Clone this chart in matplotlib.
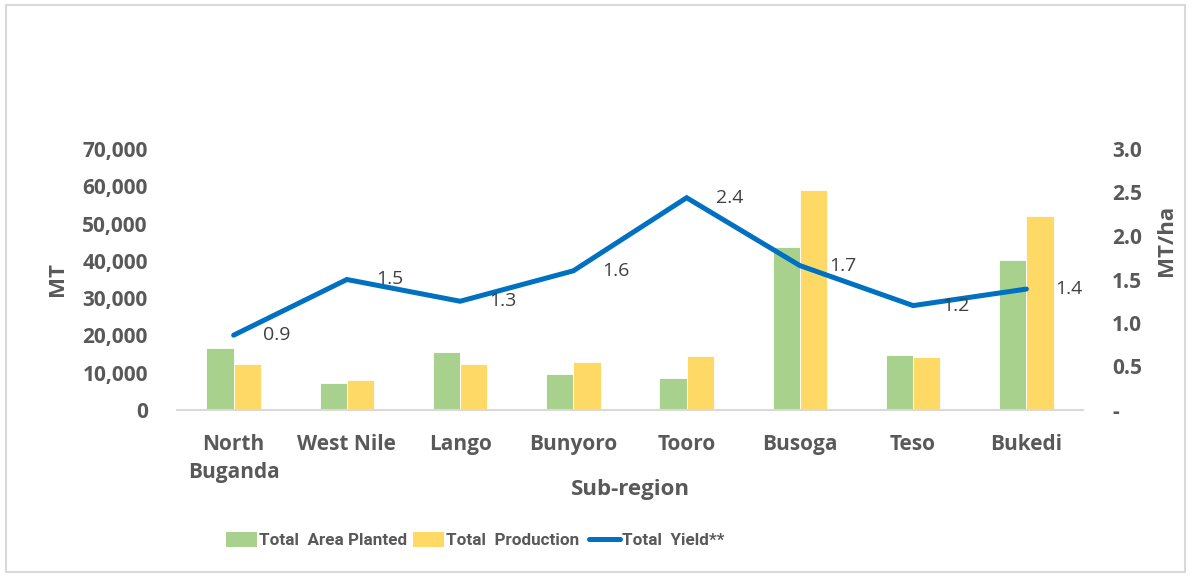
import matplotlib
matplotlib.use("Agg")
import matplotlib.pyplot as plt
import numpy as np
from matplotlib.patches import Rectangle, Patch
from matplotlib.lines import Line2D
from matplotlib.ticker import FuncFormatter, MultipleLocator

categories = ["North\nBuganda", "West Nile", "Lango", "Bunyoro", "Tooro", "Busoga", "Teso", "Bukedi"]
area_planted = [16600, 7300, 15500, 9600, 8500, 43800, 14700, 40300]
production = [12300, 8100, 12400, 12900, 14500, 59000, 14300, 52000]
yield_vals = [0.86, 1.50, 1.25, 1.60, 2.44, 1.66, 1.20, 1.39]
yield_labels = ["0.9", "1.5", "1.3", "1.6", "2.4", "1.7", "1.2", "1.4"]
legend_labels = ["Total  Area Planted", "Total  Production", "Total  Yield**"]

plt.rcParams['font.family'] = ['Open Sans', 'DejaVu Sans']
plt.rcParams['font.weight'] = 'bold'
TXT = "#595959"
GREEN, YELLOW, BLUE = "#A9D18E", "#FFD966", "#0070C0"

W, H = 1191, 577
fig = plt.figure(figsize=(W / 100, H / 100), dpi=100)
fig.patches.append(Rectangle((6 / W, 1 - 572 / H), (1185 - 6) / W, (572 - 5) / H,
                             transform=fig.transFigure, fill=False,
                             edgecolor="#d9d9d9", linewidth=1.5))

ax = fig.add_axes([177 / W, 1 - 410 / H, (1083 - 177) / W, (410 - 149) / H])
ax2 = ax.twinx()

x = np.arange(len(categories))
bw = 0.24
ax.bar(x - bw / 2, area_planted, width=bw, color=GREEN, edgecolor="white", linewidth=0.6, zorder=2)
ax.bar(x + bw / 2, production, width=bw, color=YELLOW, edgecolor="white", linewidth=0.6, zorder=2)

ax2.plot(x, yield_vals, color=BLUE, linewidth=3.6, solid_capstyle="round", solid_joinstyle="miter", zorder=3)
for xi, yv, lab in zip(x, yield_vals, yield_labels):
    ax2.annotate(lab, (xi, yv), xytext=(21, 0), textcoords="offset points",
                 ha="left", va="center", fontsize=14, fontweight="normal", color="#404040")

ax.set_xlim(-0.5, len(categories) - 0.5)
ax.set_ylim(0, 70000)
ax2.set_ylim(0, 3.0)
ax.yaxis.set_major_locator(MultipleLocator(10000))
ax2.yaxis.set_major_locator(MultipleLocator(0.5))
ax.yaxis.set_major_formatter(FuncFormatter(lambda v, p: f"{int(v):,}"))
ax2.yaxis.set_major_formatter(FuncFormatter(lambda v, p: "-" if abs(v) < 1e-9 else f"{v:.1f}"))

ax.set_xticks(x)
ax.set_xticklabels(categories, linespacing=1.45)

for a in (ax, ax2):
    for s in a.spines.values():
        s.set_visible(False)
    a.tick_params(length=0, labelsize=15, labelcolor=TXT)
ax.tick_params(axis="x", labelsize=15, pad=17)
ax.spines["bottom"].set_visible(True)
ax.spines["bottom"].set_color("#d9d9d9")
ax.spines["bottom"].set_linewidth(1.5)
ax.tick_params(axis="y", pad=21)
ax2.tick_params(axis="y", pad=21)

ax.set_ylabel("MT", fontsize=16, fontweight="bold", color=TXT)
ax.yaxis.set_label_coords(-109 / 906, 0.5)
ax2.set_ylabel("MT/ha", fontsize=16, fontweight="bold", color=TXT, rotation=90)
ax2.yaxis.set_label_coords(1 + 73 / 906, (410 - 240) / 261)
ax.set_xlabel("Sub-region", fontsize=16, fontweight="bold", color=TXT)
ax.xaxis.set_label_coords(0.5, -(479 - 410) / 261)

handles = [Patch(facecolor=GREEN), Patch(facecolor=YELLOW),
           Line2D([0], [0], color=BLUE, linewidth=3.6, solid_capstyle="round")]
starts = [226, 413, 589]
for h, lab, sx in zip(handles, legend_labels, starts):
    leg = fig.legend([h], [lab], loc="center left", bbox_to_anchor=(sx / W, 1 - 540 / H),
                     frameon=False, handlelength=1.8, handleheight=0.95,
                     handletextpad=0.12, borderpad=0, borderaxespad=0,
                     prop={"family": "Roboto", "weight": "bold", "size": 12.3})
    for t in leg.get_texts():
        t.set_color(TXT)

fig.savefig("out.png", dpi=100)
